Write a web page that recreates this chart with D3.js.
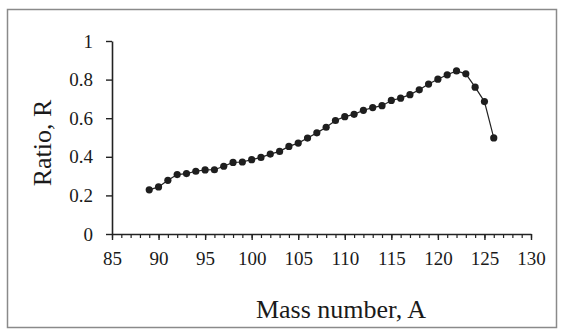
<!DOCTYPE html>
<html>
<head>
<meta charset="utf-8">
<script src="https://cdn.jsdelivr.net/npm/d3@7"></script>
<style>
    html, body { margin: 0; padding: 0; background: #fff; }
    svg { display: block; }
    text { font-family: "Liberation Serif", "Times New Roman", serif; fill: #1a1a1a; }
</style>
</head>
<body>
<svg id="chart" width="562" height="329"></svg>
<script>
// mass numbers and measured ratios
const massNumbers = [89, 90, 91, 92, 93, 94, 95, 96, 97, 98, 99, 100, 101, 102, 103,
    104, 105, 106, 107, 108, 109, 110, 111, 112, 113, 114, 115, 116, 117, 118,
    119, 120, 121, 122, 123, 124, 125, 126];
const ratios = [0.229, 0.244, 0.278, 0.308, 0.313, 0.325, 0.332, 0.333, 0.351, 0.371,
    0.373, 0.385, 0.397, 0.414, 0.428, 0.454, 0.471, 0.497, 0.524, 0.553,
    0.588, 0.608, 0.620, 0.641, 0.655, 0.665, 0.692, 0.704, 0.722, 0.747,
    0.777, 0.802, 0.825, 0.845, 0.830, 0.761, 0.686, 0.498];
const xTicks = [85, 90, 95, 100, 105, 110, 115, 120, 125, 130];
const yTicks = [0, 0.2, 0.4, 0.6, 0.8, 1];

const svg = d3.select('#chart');

const serif = 'Liberation Serif, Times New Roman, serif';
const plotLeft = 112, plotRight = 531, plotTop = 41, plotBottom = 234;

const x = d3.scaleLinear().domain([85, 130]).range([plotLeft, plotRight]);
const y = d3.scaleLinear().domain([0, 1]).range([plotBottom, plotTop]);

// outer frame
svg.append('rect')
    .attr('x', 7.5).attr('y', 9.5)
    .attr('width', 549).attr('height', 318)
    .attr('fill', 'none')
    .attr('stroke', '#8a8a8a')
    .attr('stroke-width', 1.5);

// minor x ticks
svg.append('g')
    .attr('transform', `translate(0,${plotBottom})`)
    .call(d3.axisBottom(x).tickValues(d3.range(85, 131, 1)).tickSize(4).tickFormat(''))
    .call(g => g.select('.domain').remove())
    .call(g => g.selectAll('line').attr('stroke', '#222').attr('stroke-width', 1.2));

// major x ticks + labels
svg.append('g')
    .attr('transform', `translate(0,${plotBottom})`)
    .call(d3.axisBottom(x).tickValues(xTicks).tickSize(6).tickSizeOuter(0).tickPadding(12))
    .attr('font-family', serif)
    .attr('font-size', 19)
    .call(g => g.select('.domain').attr('stroke', '#222').attr('stroke-width', 1.6))
    .call(g => g.selectAll('line').attr('stroke', '#222').attr('stroke-width', 1.4))
    .call(g => g.selectAll('text').attr('fill', '#1a1a1a'));

// y axis
svg.append('g')
    .attr('transform', `translate(${plotLeft},0)`)
    .call(d3.axisLeft(y).tickValues(yTicks).tickSize(6).tickSizeOuter(0).tickPadding(13)
        .tickFormat(d => d3.format('~g')(d)))
    .attr('font-family', serif)
    .attr('font-size', 19)
    .call(g => g.select('.domain').attr('stroke', '#222').attr('stroke-width', 1.6))
    .call(g => g.selectAll('line').attr('stroke', '#222').attr('stroke-width', 1.4))
    .call(g => g.selectAll('text').attr('fill', '#1a1a1a'));

const points = massNumbers.map((m, i) => ({m: m, r: ratios[i]}));

// connecting line
svg.append('path')
    .datum(points)
    .attr('fill', 'none')
    .attr('stroke', '#222')
    .attr('stroke-width', 1.2)
    .attr('d', d3.line().x(d => x(d.m)).y(d => y(d.r)));

// markers
svg.append('g')
    .selectAll('circle')
    .data(points)
    .enter()
    .append('circle')
    .attr('cx', d => x(d.m))
    .attr('cy', d => y(d.r))
    .attr('r', 3.6)
    .attr('fill', '#1e1e1e');

// axis titles
svg.append('text')
    .attr('x', 341)
    .attr('y', 318)
    .attr('text-anchor', 'middle')
    .style('font-size', '26px')
    .text('Mass number, A');

svg.append('text')
    .attr('transform', 'translate(51,143) rotate(-90)')
    .attr('text-anchor', 'middle')
    .style('font-size', '26px')
    .text('Ratio, R');
</script>
</body>
</html>
